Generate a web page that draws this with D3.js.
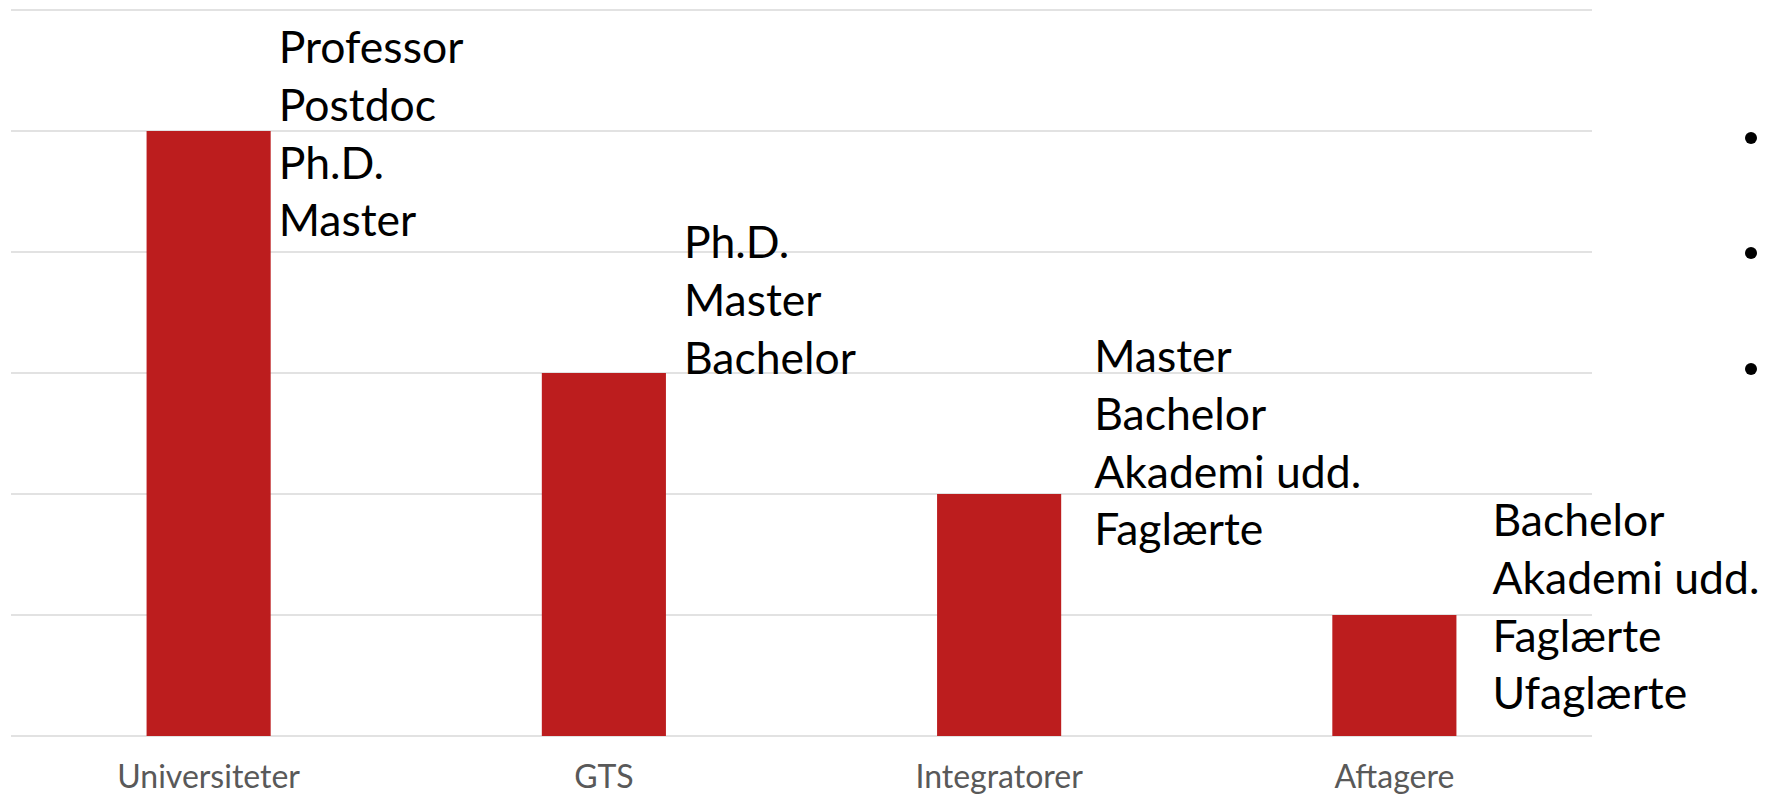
<!DOCTYPE html>
<html>
<head>
<meta charset="utf-8">
<script src="https://cdn.jsdelivr.net/npm/d3@7"></script>
<style>
body { margin: 0; background: #fff; overflow: hidden; }
</style>
</head>
<body>
<div id="chart"></div>
<script>
var categories = ["Universiteter", "GTS", "Integratorer", "Aftagere"]
var values = [5, 3, 2, 1]
var roleLabels = [
	["Professor", "Postdoc", "Ph.D.", "Master"],
	["Ph.D.", "Master", "Bachelor"],
	["Master", "Bachelor", "Akademi udd.", "Faglærte"],
	["Bachelor", "Akademi udd.", "Faglærte", "Ufaglærte"]
]
var yTicks = [0, 1, 2, 3, 4, 5, 6]

var svgWidth = 1769;
var svgHeight = 795;

var plot = {left: 11, right: 1592, top: 10, bottom: 736};

// text boxes sit at hand-placed spots next to each bar
var labelDx = [8, 18, 33, 36];
var labelTop = [63, 258, 372, 536];
var lineHeight = 57.8;

var svg = d3.select("#chart")
.append("svg")
.attr("width", svgWidth)
.attr("height", svgHeight);

var xScale = d3.scaleBand()
.domain(categories)
.range([plot.left, plot.right])
.paddingInner(0.686)
.paddingOuter(0.343);

var yScale = d3.scaleLinear()
.domain([0, 6])
.range([plot.bottom, plot.top]);

svg.append("g")
.selectAll("line")
.data(yTicks)
.enter()
.append("line")
.attr("x1", plot.left)
.attr("x2", plot.right)
.attr("y1", d => yScale(d))
.attr("y2", d => yScale(d))
.attr("stroke", "#d9d9d9")
.attr("stroke-width", 1.5);

svg.append("g")
.selectAll("rect")
.data(values)
.enter()
.append("rect")
.attr("x", (d, i) => xScale(categories[i]))
.attr("y", d => yScale(d))
.attr("width", xScale.bandwidth())
.attr("height", d => yScale(0) - yScale(d))
.attr("fill", "#bc1d1e");

var xAxis = d3.axisBottom(xScale).tickSize(0).tickPadding(29);

var xAxisGroup = svg.append("g")
.attr("transform", "translate(0," + plot.bottom + ")")
.call(xAxis);

xAxisGroup.select(".domain").remove();
xAxisGroup.selectAll("text")
.attr("fill", "#595959")
.style("font-family", "Lato, 'Open Sans', sans-serif")
.style("font-size", "32px");

var labelGroups = svg.append("g")
.selectAll("text")
.data(roleLabels)
.enter()
.append("text")
.attr("x", (d, i) => xScale(categories[i]) + xScale.bandwidth() + labelDx[i])
.attr("y", (d, i) => labelTop[i])
.attr("fill", "#000")
.style("font-family", "Lato, 'Open Sans', sans-serif")
.style("font-size", "44.5px");

labelGroups.selectAll("tspan")
.data(d => d)
.enter()
.append("tspan")
.attr("x", function() { return d3.select(this.parentNode).attr("x"); })
.attr("dy", (d, j) => j == 0 ? 0 : lineHeight)
.text(d => d);

// bullets from the cut-off slide text on the right
svg.append("g")
.selectAll("circle")
.data([138, 253, 369])
.enter()
.append("circle")
.attr("cx", 1751)
.attr("cy", d => d)
.attr("r", 6)
.attr("fill", "#000");
</script>
</body>
</html>
